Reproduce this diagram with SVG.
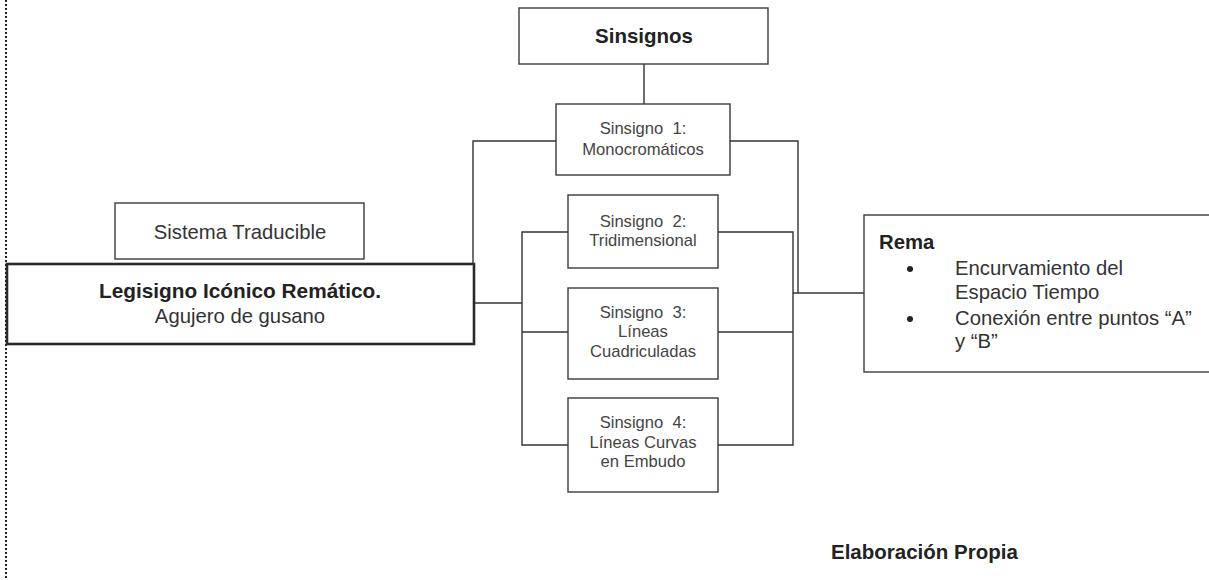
<svg xmlns="http://www.w3.org/2000/svg" width="1209" height="580" viewBox="0 0 1209 580">
  <style>
    .box { fill: #ffffff; stroke: #3a3a3a; stroke-width: 1.4; }
    .main { fill: #ffffff; stroke: #2a2a2a; stroke-width: 2.6; }
    .wire { fill: none; stroke: #333333; stroke-width: 1.4; }
    .t { font-family: "Liberation Sans", Arial, sans-serif; fill: #333333; }
    .b { font-family: "Liberation Sans", Arial, sans-serif; font-weight: bold; fill: #222222; }
    .s { font-family: "Liberation Sans", Arial, sans-serif; font-size: 16.6px; fill: #444444; text-anchor: middle; }
  </style>
  <rect width="1209" height="580" fill="#ffffff"/>

  <!-- dotted page margin -->
  <line x1="6" y1="0" x2="6" y2="580" stroke="#222222" stroke-width="2" stroke-dasharray="2 2"/>

  <!-- connectors -->
  <g id="connectors">
    <line class="wire" x1="644" y1="64" x2="644" y2="104"/>
    <polyline class="wire" points="556,141 473,141 473,264"/>
    <polyline class="wire" points="730,141 798,141 798,293"/>
    <line class="wire" x1="474" y1="303" x2="522" y2="303"/>
    <polyline class="wire" points="568,232 522,232 522,445 568,445"/>
    <line class="wire" x1="522" y1="332" x2="568" y2="332"/>
    <polyline class="wire" points="718,232 793,232 793,445 718,445"/>
    <line class="wire" x1="718" y1="332" x2="793" y2="332"/>
    <line class="wire" x1="793" y1="293" x2="864" y2="293"/>
  </g>

  <g id="sinsignos">
    <rect class="box" x="519" y="8" width="249" height="56"/>
    <text class="b" x="644" y="43" font-size="20.5" text-anchor="middle">Sinsignos</text>
  </g>

  <g id="sinsigno1">
    <rect class="box" x="556" y="104" width="174" height="71"/>
    <text class="s" x="643" y="134" xml:space="preserve">Sinsigno  1:</text>
    <text class="s" x="643" y="155">Monocromáticos</text>
  </g>

  <g id="sistema-traducible">
    <rect class="box" x="115" y="203" width="249" height="56"/>
    <text class="t" x="240" y="239" font-size="20.3" text-anchor="middle">Sistema Traducible</text>
  </g>

  <g id="legisigno">
    <rect class="main" x="7" y="264" width="467" height="80"/>
    <text class="b" x="240" y="298" font-size="20.8" text-anchor="middle">Legisigno Icónico Remático.</text>
    <text class="t" x="240" y="323" font-size="20.3" text-anchor="middle">Agujero de gusano</text>
  </g>

  <g id="sinsigno2">
    <rect class="box" x="568" y="195" width="150" height="73"/>
    <text class="s" x="643" y="227" xml:space="preserve">Sinsigno  2:</text>
    <text class="s" x="643" y="246">Tridimensional</text>
  </g>

  <g id="sinsigno3">
    <rect class="box" x="568" y="288" width="150" height="91"/>
    <text class="s" x="643" y="318" xml:space="preserve">Sinsigno  3:</text>
    <text class="s" x="643" y="337">Líneas</text>
    <text class="s" x="643" y="357">Cuadriculadas</text>
  </g>

  <g id="sinsigno4">
    <rect class="box" x="568" y="398" width="150" height="94"/>
    <text class="s" x="643" y="428" xml:space="preserve">Sinsigno  4:</text>
    <text class="s" x="643" y="448">Líneas Curvas</text>
    <text class="s" x="643" y="467">en Embudo</text>
  </g>

  <g id="rema">
    <rect class="box" x="864" y="215" width="360" height="157"/>
    <text class="b" x="879" y="249" font-size="20.3">Rema</text>
    <circle cx="910" cy="269" r="3" fill="#222222"/>
    <circle cx="910" cy="319" r="3" fill="#222222"/>
    <text class="t" x="955" y="275" font-size="20.3">Encurvamiento del</text>
    <text class="t" x="955" y="299" font-size="20.3">Espacio Tiempo</text>
    <text class="t" x="955" y="325" font-size="20.3">Conexión entre puntos “A”</text>
    <text class="t" x="955" y="348" font-size="20.3">y “B”</text>
  </g>

  <g id="fuente">
    <text class="b" x="831" y="559" font-size="20.5">Elaboración Propia</text>
  </g>
</svg>
